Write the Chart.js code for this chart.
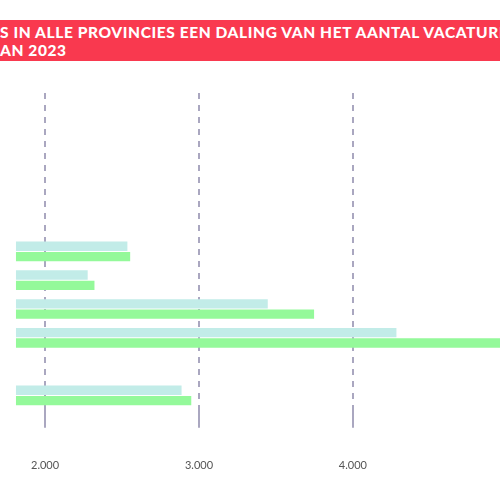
<!DOCTYPE html>
<html><head><meta charset="utf-8">
<script src="https://cdn.jsdelivr.net/npm/chart.js@4"></script>
<style>
html,body{margin:0;padding:0;background:#fff;width:500px;height:500px;overflow:hidden;position:relative}
#banner{position:absolute;left:0;top:20px;width:500px;height:41px;background:#f9394f;color:#fff;font-family:Lato,sans-serif;font-weight:900;font-size:15.5px;line-height:18px;padding-top:3px;box-sizing:border-box;white-space:nowrap;overflow:hidden;letter-spacing:0.6px}
#c{position:absolute;left:0;top:0}
</style></head><body>
<canvas id="c" width="500" height="500"></canvas>
<div id="banner">S IN ALLE PROVINCIES EEN DALING VAN HET AANTAL VACATURES<br>AN 2023</div>
<script>
const categories=["Groningen","Friesland","Drenthe","Overijssel","Flevoland","Gelderland","Utrecht","Noord-Holland","Zuid-Holland","Zeeland","Noord-Brabant"];
const series2024=[1200,1100,900,1300,1000,2535,2277,3447,4283,1500,2887];
const series2023=[1300,1200,1000,1400,1100,2553,2321,3748,5200,1600,2950];
const tickValues=[2000,3000,4000,5000];
new Chart(document.getElementById('c'),{
type:'bar',
data:{labels:categories,datasets:[
{label:'2024',data:series2024,backgroundColor:'#c2ece8'},
{label:'2023',data:series2023,backgroundColor:'#94f99a'}]},
options:{indexAxis:'y',responsive:false,animation:false,
layout:{padding:{top:93,bottom:-3,left:-15,right:0}},
plugins:{legend:{display:false},tooltip:{enabled:false}},
datasets:{bar:{categoryPercentage:0.72,barPercentage:0.9}},
scales:{
y:{display:false},
x:{min:1811,max:4956,
afterBuildTicks:a=>{a.ticks=tickValues.filter(v=>v<=4956).map(v=>({value:v}));},
grid:{color:'#aaa7c0',lineWidth:2,tickLength:18,drawTicks:true,tickColor:'#aaa7c0'},
border:{display:false,dash:[6,6]},
ticks:{padding:31,color:'#555',font:{family:'Lato',size:11},callback:v=>v.toLocaleString('nl-NL')}}
}}});
</script></body></html>
